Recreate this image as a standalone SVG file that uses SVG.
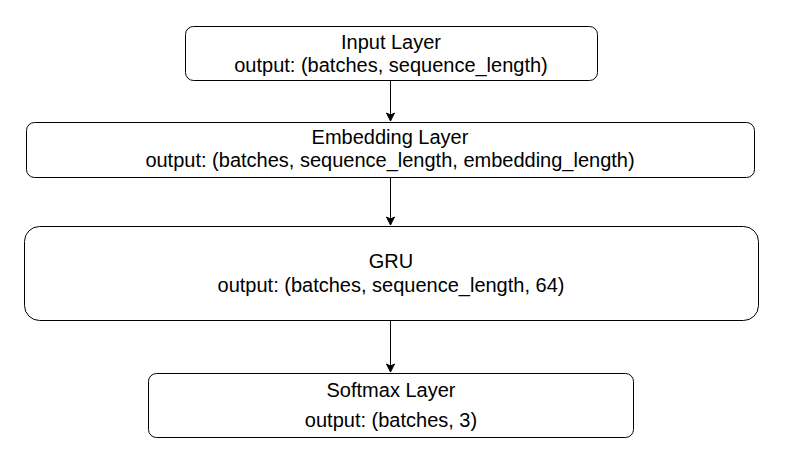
<svg xmlns="http://www.w3.org/2000/svg" width="804" height="476" viewBox="0 0 804 476">
<style>
.box{fill:#fff;stroke:#000;stroke-width:1}
.t{font-family:"Liberation Sans",Arial,sans-serif;font-size:20px;fill:#000;text-anchor:middle}
.c{stroke:#000;stroke-width:1;fill:none}
</style>
<defs>
<marker id="arr" markerWidth="10" markerHeight="10" refX="9" refY="5" orient="auto" markerUnits="userSpaceOnUse">
<path d="M1,1 L9,5 L1,9 L3,5 Z" fill="#000" stroke="#000"/>
</marker>
</defs>
<rect width="804" height="476" fill="#fff"/>
<g id="connectors">
<line class="c" x1="390.5" y1="80" x2="390.5" y2="121" marker-end="url(#arr)"/>
<line class="c" x1="390.5" y1="177" x2="390.5" y2="225" marker-end="url(#arr)"/>
<line class="c" x1="390.5" y1="320" x2="390.5" y2="372" marker-end="url(#arr)"/>
</g>
<g id="input">
<rect class="box" x="185.5" y="26.5" width="412" height="54" rx="8"/>
<text class="t" x="391" y="49">Input Layer</text>
<text class="t" x="391" y="72">output: (batches, sequence_length)</text>
</g>
<g id="embedding">
<rect class="box" x="26.5" y="122.5" width="728" height="55" rx="8"/>
<text class="t" x="390" y="144">Embedding Layer</text>
<text class="t" x="390" y="167">output: (batches, sequence_length, embedding_length)</text>
</g>
<g id="gru">
<rect class="box" x="24.5" y="226.5" width="734" height="94" rx="15"/>
<text class="t" x="391" y="268">GRU</text>
<text class="t" x="391" y="292">output: (batches, sequence_length, 64)</text>
</g>
<g id="softmax">
<rect class="box" x="148.5" y="373.5" width="485" height="64" rx="8"/>
<text class="t" x="391" y="397">Softmax Layer</text>
<text class="t" x="391" y="427">output: (batches, 3)</text>
</g>
</svg>
